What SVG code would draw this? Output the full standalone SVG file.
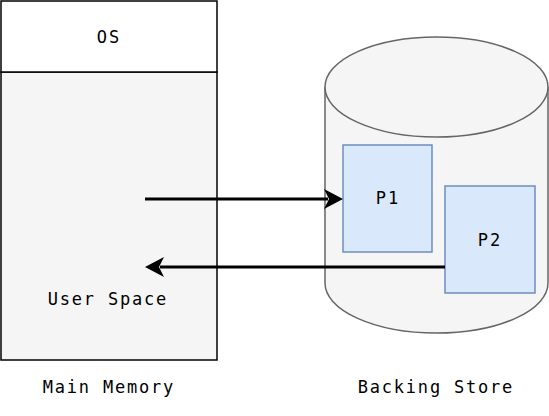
<svg xmlns="http://www.w3.org/2000/svg" width="549" height="416" viewBox="0 0 549 416">
<style>
text{font-family:"DejaVu Sans Mono","Liberation Mono",monospace;font-size:17px;fill:#000;text-anchor:middle;letter-spacing:1.8px}
.mem{stroke:#000;stroke-width:1.5}
.cyl{fill:#f5f5f5;stroke:#666;stroke-width:1.5}
.proc{fill:#dae8fc;stroke:#6c8ebf;stroke-width:1.5}
.edge{stroke:#000;stroke-width:3;fill:none}
.head{fill:#000}
</style>
<rect width="549" height="416" fill="#fff"/>
<g id="main-memory">
<rect class="mem" x="1" y="72" width="216" height="288" fill="#f5f5f5"/>
<rect class="mem" x="1" y="1" width="216" height="71" fill="#fff"/>
<text x="108.9" y="43">OS</text>
<text x="107.9" y="305">User Space</text>
<text x="108.9" y="393">Main Memory</text>
</g>
<g id="backing-store">
<path class="cyl" d="M325,87 A111.5,50 0 0 1 548,87 L548,283 A111.5,50 0 0 1 325,283 Z"/>
<path class="cyl" fill="none" d="M325,87 A111.5,50 0 0 0 548,87"/>
<text x="435.9" y="393">Backing Store</text>
</g>
<g id="p1">
<rect class="proc" x="343" y="145" width="89" height="107"/>
<text x="387.9" y="204">P1</text>
</g>
<g id="p2">
<rect class="proc" x="445" y="186" width="90" height="107"/>
<text x="489.9" y="246">P2</text>
</g>
<g id="connectors">
<line class="edge" x1="145" y1="199" x2="328" y2="199"/>
<path class="head" d="M343,199 L324,189 L329,199 L324,209 Z"/>
<line class="edge" x1="445" y1="267" x2="160" y2="267"/>
<path class="head" d="M145,267 L164,257 L159,267 L164,277 Z"/>
</g>
</svg>
